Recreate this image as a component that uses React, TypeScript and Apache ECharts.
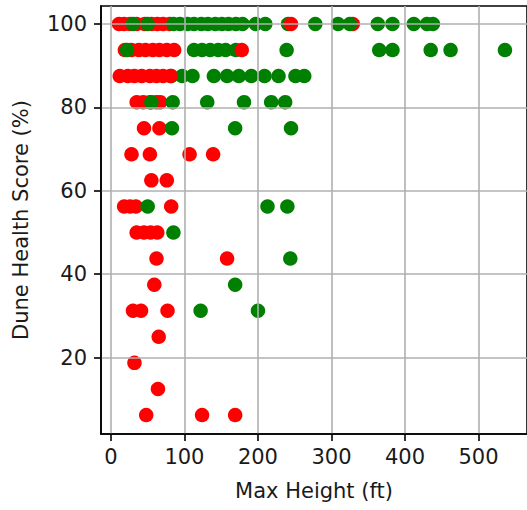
import { useEffect, useRef } from "react";
import * as echarts from "echarts";

// Max height (ft) of each dune, in drawing order
const maxHeight = [
  // score 100
  11, 18, 26, 35, 46, 55, 63, 71, 80,
  30, 50, 85, 94, 104, 113, 123, 132, 142, 151, 160, 170, 179, 197, 210, 241,
  245, 329, 325,
  278, 309, 363, 383, 412, 430, 438,
  // score 93.75
  19, 28, 38, 47, 57, 66, 76, 86,
  22, 113, 124, 135, 146, 156, 170,
  178,
  239, 365, 383, 435, 462, 536,
  // score 87.5
  82, 97, 111,
  12, 23, 32, 42, 53, 62, 71, 81,
  140, 158, 174, 191, 209, 228, 251, 263,
  // score 81.25
  35, 44, 53, 62, 67,
  55, 84, 131, 181, 218, 237,
  // score 75
  45, 66, 83, 169, 245,
  // score 68.75
  28, 53, 107, 139,
  // score 62.5
  55, 76,
  // score 56.25
  18, 26, 34, 50, 82, 213, 240,
  // score 50
  35, 45, 54, 63, 85,
  // score 43.75
  62, 158, 244,
  // score 37.5
  59, 169,
  // score 31.25
  30, 41, 77, 122, 200,
  // score 25
  65,
  // score 18.75
  32,
  // score 12.5
  64,
  // score 6.25
  48, 124, 169,
];

// Dune health score (%)
const healthScore = [
  100, 100, 100, 100, 100, 100, 100, 100, 100,
  100, 100, 100, 100, 100, 100, 100, 100, 100, 100, 100, 100, 100, 100, 100, 100,
  100, 100, 100,
  100, 100, 100, 100, 100, 100, 100,
  93.75, 93.75, 93.75, 93.75, 93.75, 93.75, 93.75, 93.75,
  93.75, 93.75, 93.75, 93.75, 93.75, 93.75, 93.75,
  93.75,
  93.75, 93.75, 93.75, 93.75, 93.75, 93.75,
  87.5, 87.5, 87.5,
  87.5, 87.5, 87.5, 87.5, 87.5, 87.5, 87.5, 87.5,
  87.5, 87.5, 87.5, 87.5, 87.5, 87.5, 87.5, 87.5,
  81.25, 81.25, 81.25, 81.25, 81.25,
  81.25, 81.25, 81.25, 81.25, 81.25, 81.25,
  75, 75, 75, 75, 75,
  68.75, 68.75, 68.75, 68.75,
  62.5, 62.5,
  56.25, 56.25, 56.25, 56.25, 56.25, 56.25, 56.25,
  50, 50, 50, 50, 50,
  43.75, 43.75, 43.75,
  37.5, 37.5,
  31.25, 31.25, 31.25, 31.25, 31.25,
  25,
  18.75,
  12.5,
  6.25, 6.25, 6.25,
];

// 1 = green marker, 0 = red marker
const healthy = [
  0, 0, 0, 0, 0, 0, 0, 0, 0,
  1, 1, 1, 1, 1, 1, 1, 1, 1, 1, 1, 1, 1, 1, 1, 1,
  0, 0, 1,
  1, 1, 1, 1, 1, 1, 1,
  0, 0, 0, 0, 0, 0, 0, 0,
  1, 1, 1, 1, 1, 1, 1,
  0,
  1, 1, 1, 1, 1, 1,
  1, 1, 1,
  0, 0, 0, 0, 0, 0, 0, 0,
  1, 1, 1, 1, 1, 1, 1, 1,
  0, 0, 0, 0, 0,
  1, 1, 1, 1, 1, 1,
  0, 0, 1, 1, 1,
  0, 0, 0, 0,
  0, 0,
  0, 0, 0, 1, 0, 1, 1,
  0, 0, 0, 0, 1,
  0, 0, 1,
  0, 1,
  0, 0, 0, 1, 1,
  0,
  0,
  0,
  0, 0, 0,
];

const xTicks = [0, 100, 200, 300, 400, 500];
const yTicks = [20, 40, 60, 80, 100];

const FONT = "DejaVu Sans";
const GREEN = "#008000";
const RED = "#ff0000";

export default function App() {
  const ref = useRef<HTMLDivElement>(null);
  useEffect(() => {
    if (!ref.current) return;
    const chart = echarts.init(ref.current, undefined, { renderer: "svg" });
    const data = maxHeight.map((h, i) => ({
      value: [h, healthScore[i]],
      itemStyle: { color: healthy[i] ? GREEN : RED, opacity: 1 },
    }));
    const axisCommon = {
      type: "value" as const,
      z: 3,
      axisLine: { show: true, onZero: false, lineStyle: { color: "#000", width: 1.6 } },
      splitLine: { show: true, lineStyle: { color: "#b0b0b0", width: 1.6 } },
    };
    chart.setOption({
      animation: false,
      grid: {
        left: 101,
        top: 6,
        width: 430,
        height: 428,
        show: true,
        borderColor: "#000",
        borderWidth: 1.6,
        backgroundColor: "transparent",
        z: 3,
      },
      xAxis: {
        ...axisCommon,
        min: -13.5,
        max: 566,
        name: "Max Height (ft)",
        nameLocation: "middle",
        nameGap: 46,
        nameTextStyle: { fontSize: 21, color: "#1a1a1a", fontFamily: FONT },
        axisTick: { show: true, length: 7, lineStyle: { color: "#000", width: 1.6 }, customValues: xTicks },
        axisLabel: { customValues: xTicks, fontSize: 21, color: "#1a1a1a", fontFamily: FONT, margin: 12 },
      },
      yAxis: {
        ...axisCommon,
        min: 1.7,
        max: 104.3,
        name: "Dune Health Score (%)",
        nameLocation: "middle",
        nameGap: 70,
        nameRotate: 90,
        nameTextStyle: { fontSize: 21, color: "#1a1a1a", fontFamily: FONT },
        axisTick: { show: true, length: 7, lineStyle: { color: "#000", width: 1.6 }, customValues: yTicks },
        axisLabel: { customValues: yTicks, fontSize: 21, color: "#1a1a1a", fontFamily: FONT, margin: 14 },
      },
      series: [
        {
          type: "scatter",
          z: 2,
          symbol: "circle",
          symbolSize: 14.5,
          itemStyle: { opacity: 1 },
          data,
        },
      ],
    });
    return () => chart.dispose();
  }, []);
  return (
    <div
      ref={ref}
      style={{ position: "fixed", left: 0, top: 0, width: 527, height: 510, background: "#fff" }}
    />
  );
}
